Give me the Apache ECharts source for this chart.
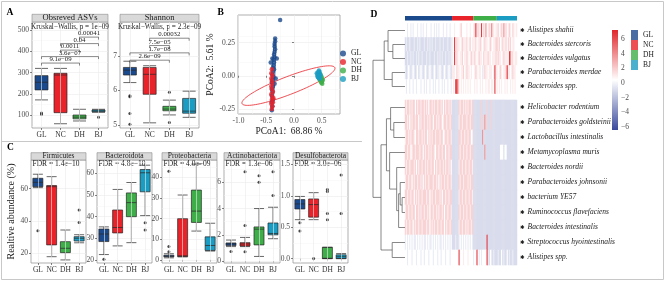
<!DOCTYPE html>
<html>
<head>
<meta charset="utf-8">
<title>Gut microbiota figure</title>
<script src="https://cdn.jsdelivr.net/npm/echarts@6.0.0/dist/echarts.min.js"></script>
<style>
  html, body { margin: 0; padding: 0; background: #ffffff; }
  #figure { width: 666px; height: 282px; }
</style>
</head>
<body>
<div id="figure"></div>
<script>
var groups = ['GL', 'NC', 'DH', 'BJ'];
var groupColors = ['#1b4a8c', '#e8232a', '#3eae49', '#1b9cc2'];

// ---- A: alpha diversity, boxes are [min, Q1, median, Q3, max]
var asvBoxes = [[172, 219, 255, 286, 320], [60, 112, 289, 297, 320], [73, 83, 91, 101, 128], [114, 116, 120, 125, 128]];
var asvOutliers = [[0, 110], [0, 105], [3, 91]];
var asvTests = [[0, 2, '9.1e\u221209'], [0, 3, '3.6e\u221207'], [1, 2, '0.0011'], [1, 3, '0.04'], [2, 3, '0.00041']];
var asvTicks = [100, 200, 300, 400, 500];

var shannonBoxes = [[6.23, 6.45, 6.59, 6.67, 6.85], [5.06, 5.89, 6.47, 6.67, 6.72], [5.29, 5.41, 5.46, 5.54, 5.72], [5.22, 5.34, 5.40, 5.77, 5.98]];
var shannonOutliers = [[0, 5.85], [0, 5.82], [0, 5.33], [0, 5.02], [2, 5.95], [2, 5.07]];
var shannonTests = [[0, 2, '2.6e\u221209'], [0, 3, '1.7e\u221208'], [1, 2, '7.5e\u221205'], [1, 3, '0.00032']];
var shannonTicks = [5, 6, 7];

// ---- C: phylum relative abundance
var firmicutesBoxes = [[60.6, 61.2, 63.9, 66.4, 68.9], [17.9, 25.2, 61.2, 61.9, 67.4], [15.9, 20.4, 23.1, 27.2, 34.4], [26.5, 27.6, 29.3, 30.3, 31.5]];
var firmicutesOutliers = [[0, 34], [3, 39], [3, 46.8]];
var firmicutesTicks = [20, 40, 60];

var bacteroidotaBoxes = [[22.5, 28.5, 32, 34.3, 35.3], [26.5, 32.5, 35, 43.1, 52.6], [28, 40, 46.5, 51, 55.8], [40.5, 51.5, 60.3, 61.8, 63.8]];
var bacteroidotaOutliers = [[0, 20.3], [3, 37.2], [3, 33.8]];
var bacteroidotaTicks = [20, 30, 40, 50, 60];

var proteobacteriaBoxes = [[1.0, 1.5, 1.8, 2.3, 3.0], [1.5, 1.6, 2.0, 20.0, 31.5], [14, 18.2, 23.7, 33.9, 46.5], [4.3, 4.6, 7.0, 11.2, 17.8]];
var proteobacteriaOutliers = [[0, 4.0], [0, 6.5], [0, 43]];
var proteobacteriaTicks = [0, 10, 20, 30, 40];

var actinoBoxes = [[1.1, 1.18, 1.3, 1.38, 1.6], [1.1, 1.15, 1.3, 1.4, 1.8], [0.35, 1.23, 2.43, 2.6, 4.0], [1.7, 2.0, 2.1, 2.9, 4.1]];
var actinoOutliers = [[0, 0.73], [1, 2.7], [1, 0.7], [1, 6.8], [2, 6.5], [2, 6.0], [3, 5.0], [3, 6.8]];
var actinoTicks = [0, 2, 4, 6];

var desulfoBoxes = [[0.62, 0.79, 0.87, 0.94, 0.99], [0.62, 0.66, 0.86, 0.95, 1.05], [0, 0, 0.005, 0.18, 0.18], [0, 0, 0.03, 0.06, 0.08]];
var desulfoOutliers = [[0, 0.57], [0, 0.44], [1, 0.0], [2, 1.1], [2, 1.07], [2, 0.72], [2, 0.62], [3, 1.33], [3, 0.72]];
var desulfoTicks = [0, 0.5, 1, 1.5];

var phyla = ['Firmicutes', 'Bacteroidota', 'Proteobacteria', 'Actinobacteriota', 'Desulfobacterota'];
var phylaFdr = ['FDR = 1.4e\u221210', 'FDR = 4.8e\u221210', 'FDR = 4.0e\u221209', 'FDR = 1.3e\u221206', 'FDR = 3.0e\u221206'];

// ---- B: PCoA
var pcoaGL = [[-0.25, 0.42], [-0.34, 0.28], [-0.34, 0.26], [-0.35, 0.24], [-0.35, 0.22], [-0.34, 0.2], [-0.35, 0.18], [-0.36, 0.16],
  [-0.35, 0.14], [-0.39, 0.13], [-0.31, 0.13], [-0.37, 0.12], [-0.36, 0.1], [-0.37, 0.08], [-0.38, 0.06], [-0.36, 0.05], [-0.38, 0.03],
  [-0.39, 0.01], [-0.37, -0.01], [-0.39, -0.03], [-0.4, -0.05], [-0.35, -0.06], [-0.38, -0.08], [-0.4, -0.1], [-0.39, -0.12],
  [-0.4, -0.15], [-0.38, -0.18], [-0.4, -0.2], [-0.39, -0.23], [-0.4, -0.26], [-0.42, 0.1], [-0.33, -0.02]];
var pcoaNC = [[-0.4, 0.05], [-0.41, 0.02], [-0.39, 0.0], [-0.41, -0.02], [-0.4, -0.04], [-0.39, -0.06], [-0.41, -0.08], [-0.4, -0.1],
  [-0.38, -0.12], [-0.41, -0.14], [-0.39, -0.16], [-0.4, -0.18], [-0.38, -0.2], [-0.41, -0.21], [-0.39, -0.23], [-0.4, -0.25], [-0.37, -0.17]];
var pcoaDH = [[0.47, -0.01], [0.49, -0.03], [0.5, -0.05], [0.51, -0.04], [0.48, -0.02], [0.46, 0.0], [0.5, -0.01], [0.52, -0.03],
  [0.49, -0.05], [0.47, -0.03], [0.45, -0.02], [0.51, -0.06], [0.48, 0.01]];
var pcoaBJ = [[0.43, 0.02], [0.44, 0.03], [0.45, 0.01], [0.42, 0.0], [0.46, 0.02], [0.44, -0.01], [0.47, 0.01], [0.45, -0.02],
  [0.43, -0.01], [0.46, 0.03], [0.48, 0.0], [0.41, 0.02], [0.45, 0.04], [0.47, -0.02], [0.44, 0.0]];
// confidence ellipses: [cx, cy, semi-major, semi-minor, angle (deg), group]
var pcoaEllipses = [[-0.37, 0.01, 0.275, 0.025, 83.7, 0], [-0.1, -0.074, 0.85, 0.071, 8.9, 1], [0.49, -0.03, 0.045, 0.03, 0, 2], [0.45, 0.01, 0.04, 0.03, 0, 3]];
var pcoaXTicks = [-1, -0.5, 0, 0.5];
var pcoaYTicks = [-0.25, 0, 0.25];

// ---- D: heatmap of z-scored species abundance
var taxaTop = ['Alistipes shahii', 'Bacteroides stercoris', 'Bacteroides vulgatus', 'Parabacteroides merdae', 'Bacteroides spp.'];
var taxaBottom = ['Helicobacter rodentium', 'Parabacteroides goldsteinii', 'Lactobacillus intestinalis', 'Metamycoplasma muris',
  'Bacteroides nordii', 'Parabacteroides johnsonii', 'bacterium YE57', 'Ruminococcus flavefaciens', 'Bacteroides intestinalis',
  'Streptococcus hyointestinalis', 'Alistipes spp.'];
var groupSizes = [42, 19, 21, 18];
var heatCodes = { L: -0.9, l: -0.3, w: 0.4, p: 1.0, P: 1.8, r: 3.8, R: 6.5 };
var heatRows = [
  ['wwlwwl wlwwwl wwlwlw wlwwwl wwlwlw lwwwlw wlwwlw', 'wwpwww wpPwww wpwwpww', 'pPRpPpw RpPprwp PprPpwp', 'pPwpPp rpPwpP pwPpwp'],
  ['LlLLlL LLlLLl LlLLLl LLlLlL lLLlLL LlLLlL LLlLLl', 'pwRpPp pwpPpp pPwpPwp', 'ppPwppP pwpPppw pPpwppP', 'PpPwpP ppPwPp Pwppww'],
  ['LLlLLl LlLLlL lLLlLL LlLLlL LLlLLl LlLlLL lLLlLl', 'pwRpPp wppPwp pPpwpPp', 'pPpwpPp pwPpppP ppwpppP', 'pPppwp PpppwR rpPwpp'],
  ['lLlwlL lwlLlw LlwlLl wlLlwl LlwlLl lwlLlw lLlwlL', 'pppwPp pwppPw pPppwpw', 'wpPpwpp wlpPppw pppwpRp', 'pwpPpw ppPRpp wpPppw'],
  ['wlwwlw wlwwlw wwlwwl wlwwlw wlwlww lwwlwl wwlwwl', 'wpwRRr pwpwpw pwpwpww', 'wpwpwwp wpwwpwp pwppwRw', 'pwpwpw wpwpww pwpwpw'],
  ['PpPPpP pPPwPp PPpPPp PpPwPP pPpPPp PPpPwP pPPpPp', 'LLLLLL PpPPpP pPpPPpP', 'LLLLLLL PLLLLPL LLPLLLL', 'LLLLLL LLLLLL LLLLLL'],
  ['PPpPwP pPPpPP wPpPPp PPpPpP PwPPpP pPPwpP PpPPpP', 'LLLLLL pPPpPP PpPPpPP', 'LLLLLLL PLPrLPL LPLLLLL', 'LLLLLL LLLLLL LLLLLL'],
  ['pPPpPp PPpwPP pPPpPp PPwPpP pPPpPP PpPPwp PPpPPp', 'LLLLLL PPpPPp PPpPPwp', 'LLLLLLL LrLLLLL LLLLLLL', 'LLLLLL LLLLLL LLLLLL'],
  ['PPpPPw pPPpPP PpPPwP pPPpPp PPpwPP pPPpPP wPPpPP', 'LLLLLL PpPPpP PpPPpPP', 'LLLLLLL LLLrLLL LLLLLLL', 'LLLwww LwwLLL LLLLLL'],
  ['PpPPpP PPpPwP pPPpPP pPpPPp PPwPpP PpPPpP pPPpPw', 'LLLLLL pPPpPP pPPpPPp', 'LLLLLLL LLLLLLL LLLLLLL', 'LLLLLL LLLLLL LLLLLL'],
  ['pPPpPP wPpPPp PPpPwP pPPpPP PpPPpP wPpPPp PPpPPp', 'LLLLLL PpPPpP PPpPpPP', 'LLLLLLL LLLLLLL LLLLLLL', 'LLLLLL LLLLLL LLLLLL'],
  ['PPpPPp PPwPpP pPPpPP PpPPwP pPPpPP PpPwPP pPPpPP', 'LLLLLL pPPpPP pPPpPPp', 'LLLLLLL LLLLLLL LLLLLLL', 'LLLLLL LLLLLL LLLLLL'],
  ['pPPpPP pPPwPP pPpPPp PPpPwP PpPPpP pPPpPw PPpPPp', 'LLLLLL PpPPpP PpPPpPP', 'LLLLLLL LLLLLLL LLLLLLL', 'LLLLLL LLLLLL LLLLLL'],
  ['PpPPpP PwPpPP pPPpPP PpPPwP pPpPPp PPpPPw PpPPpP', 'LLLLLL pPPpPP pPpPPpP', 'LLLLLLL LLLLLLL LLLLLLL', 'LLLLLL LLLLLL LLLLLL'],
  ['lwlwlw lwllwl wlwlwl lwlwll wlwlwl wllwlw lwlwlw', 'LLLlLL lwlwlw lwlwlwl', 'LLLLLLL LLLLLRL LLLLLLL', 'LLLLLL LLLLLL LLLLLL'],
  ['wwlwww lwwwlw wwlwwl wwwlww wlwwwl wwlwww lwwwlw', 'wwwwww Rwwwpw wwpwwww', 'lwwRwlw lwwwwRl LwlLlLL', 'LlLLwL lLLwLl LLlLLL']
];
// row dendrogram: [node a, node b, height]; leaves 0-15, merged nodes numbered from 16
var dendroMerges = [[1, 2, 3.8], [0, 16, 5.3], [3, 4, 4.0], [17, 18, 6.5], [11, 12, 0.9], [10, 20, 1.5], [21, 13, 2.0],
  [9, 22, 2.6], [14, 15, 4.0], [6, 7, 3.5], [5, 25, 4.5], [8, 23, 4.8], [26, 27, 5.8], [28, 24, 7.5], [19, 29, 10]];
var heatMin = -6.4, heatMax = 7.23;
var heatTicks = [-6, -4, -2, 0, 2, 4, 6];

// ================= layout =================
var chart = echarts.init(document.getElementById('figure'));
var SERIF = 'Liberation Serif';
var gridBoxes = [
  { left: 32, top: 22, width: 76, height: 106 },   // 0 A observed ASVs
  { left: 120, top: 22, width: 79, height: 106 },  // 1 A Shannon
  { left: 238, top: 15, width: 102, height: 99 },  // 2 B PCoA
  { left: 31, top: 160, width: 55, height: 103 },  // 3 C
  { left: 97, top: 160, width: 55, height: 103 },  // 4
  { left: 162, top: 160, width: 55, height: 103 }, // 5
  { left: 224, top: 160, width: 56, height: 103 }, // 6
  { left: 293, top: 160, width: 55, height: 103 }, // 7
  { left: 405, top: 16, width: 112, height: 4.5 }, // 8 D group bar
  { left: 405, top: 23.5, width: 112, height: 70 },// 9 D heatmap top block
  { left: 405, top: 100, width: 112, height: 165 },// 10 D heatmap bottom block
  { left: 373, top: 23.5, width: 32, height: 241.5 }, // 11 dendrogram
  { left: 612, top: 30, width: 6, height: 100 }    // 12 colour key axis
];
var grids = gridBoxes.map(function (g, i) {
  return { left: g.left, top: g.top, width: g.width, height: g.height, show: i <= 7,
    borderColor: '#8c8c8c', borderWidth: 0.7, backgroundColor: '#ffffff' };
});
var xAxes = [], yAxes = [], series = [];
var tickLabel = { fontFamily: SERIF, fontSize: 7.5, color: '#4d4d4d', margin: 3 };

function catAxis(gi) {
  return { type: 'category', gridIndex: gi, data: groups,
    axisLine: { show: false },
    axisTick: { show: true, length: 2, alignWithLabel: true, interval: 0, lineStyle: { color: '#333', width: 0.6 } },
    axisLabel: Object.assign({}, tickLabel, { color: '#333', interval: 0 }),
    splitLine: { show: false } };
}
function valAxis(gi, min, max, ticks, dec, splitNumber, minor) {
  return { type: 'value', gridIndex: gi, min: min, max: max, splitNumber: splitNumber || 5,
    axisLine: { show: false },
    axisTick: { show: true, length: 2, customValues: ticks, lineStyle: { color: '#333', width: 0.6 } },
    axisLabel: Object.assign({}, tickLabel, { customValues: ticks, formatter: function (v) { return v.toFixed(dec); } }),
    splitLine: { show: true, lineStyle: { color: '#ebebeb', width: 0.6 } },
    minorTick: { show: false, splitNumber: 2 },
    minorSplitLine: { show: !!minor, lineStyle: { color: '#f4f4f4', width: 0.5 } } };
}

var boxPanels = [
  { grid: 0, boxes: asvBoxes, outliers: asvOutliers, tests: asvTests, base: 345, step: 30.5, min: 40, max: 538, ticks: asvTicks, dec: 0, minor: true, boxW: 13 },
  { grid: 1, boxes: shannonBoxes, outliers: shannonOutliers, tests: shannonTests, base: 6.88, step: 0.213, min: 4.91, max: 7.99, ticks: shannonTicks, dec: 0, minor: false, boxW: 13 },
  { grid: 3, boxes: firmicutesBoxes, outliers: firmicutesOutliers, min: 14, max: 77.7, ticks: firmicutesTicks, dec: 0, minor: false, boxW: 10 },
  { grid: 4, boxes: bacteroidotaBoxes, outliers: bacteroidotaOutliers, min: 18.6, max: 66.2, ticks: bacteroidotaTicks, dec: 0, minor: true, boxW: 10 },
  { grid: 5, boxes: proteobacteriaBoxes, outliers: proteobacteriaOutliers, min: -1.5, max: 48.5, ticks: proteobacteriaTicks, dec: 0, minor: true, boxW: 10 },
  { grid: 6, boxes: actinoBoxes, outliers: actinoOutliers, min: -0.15, max: 7.7, ticks: actinoTicks, dec: 0, minor: true, boxW: 10 },
  { grid: 7, boxes: desulfoBoxes, outliers: desulfoOutliers, min: -0.07, max: 1.57, ticks: desulfoTicks, dec: 1, minor: true, boxW: 10, splitNumber: 3 }
];

// placeholder axes for every grid, filled in below
for (var gi = 0; gi < gridBoxes.length; gi++) { xAxes.push(null); yAxes.push(null); }

boxPanels.forEach(function (p) {
  xAxes[p.grid] = catAxis(p.grid);
  yAxes[p.grid] = valAxis(p.grid, p.min, p.max, p.ticks, p.dec, p.splitNumber, p.minor);
  series.push({ type: 'line', xAxisIndex: p.grid, yAxisIndex: p.grid, data: [], z: 1, silent: true,
    markLine: { silent: true, symbol: 'none', label: { show: false }, lineStyle: { color: '#ebebeb', width: 0.6, type: 'solid' },
      data: groups.map(function (g) { return { xAxis: g }; }) } });
  series.push({ type: 'boxplot', xAxisIndex: p.grid, yAxisIndex: p.grid, silent: true, z: 3,
    boxWidth: [p.boxW, p.boxW],
    itemStyle: { borderColor: '#262626', borderWidth: 0.7 },
    data: p.boxes.map(function (b, i) { return { value: b, itemStyle: { color: groupColors[i] } }; }) });
  series.push({ type: 'scatter', xAxisIndex: p.grid, yAxisIndex: p.grid, silent: true, z: 4,
    symbolSize: 3, itemStyle: { color: '#1a1a1a' }, data: p.outliers });
  if (p.tests) {
    series.push({ type: 'custom', xAxisIndex: p.grid, yAxisIndex: p.grid, silent: true, z: 5, clip: false,
      encode: { x: 0, y: 2 },
      data: p.tests.map(function (t, i) { return [t[0], t[1], p.base + i * p.step]; }),
      renderItem: function (params, api) {
        var a = api.coord([api.value(0), api.value(2)]);
        var b = api.coord([api.value(1), api.value(2)]);
        var label = p.tests[params.dataIndex][2];
        return { type: 'group', children: [
          { type: 'polyline', shape: { points: [[a[0], a[1] + 2.5], a, b, [b[0], b[1] + 2.5]] },
            style: { stroke: '#3a3a3a', fill: null, lineWidth: 0.6 } },
          { type: 'text', style: { text: label, x: (a[0] + b[0]) / 2, y: a[1] - 0.3,
            align: 'center', verticalAlign: 'bottom', textAlign: 'center', textVerticalAlign: 'bottom',
            fontFamily: SERIF, fontSize: 6.8, fill: '#222' } }
        ] };
      } });
  }
});

// ---- B: PCoA axes and series
xAxes[2] = { type: 'value', gridIndex: 2, min: -1.01, max: 0.83, splitNumber: 4,
  name: 'PCoA1:  68.86 %', nameLocation: 'middle', nameGap: 12,
  nameTextStyle: { fontFamily: SERIF, fontSize: 9.5, color: '#1a1a1a' },
  axisLine: { show: false },
  axisTick: { show: true, length: 2, customValues: pcoaXTicks, lineStyle: { color: '#333', width: 0.6 } },
  axisLabel: Object.assign({}, tickLabel, { customValues: pcoaXTicks, formatter: function (v) { return v.toFixed(1); } }),
  splitLine: { show: true, lineStyle: { color: '#ebebeb', width: 0.6 } },
  minorTick: { show: false, splitNumber: 2 },
  minorSplitLine: { show: true, lineStyle: { color: '#f4f4f4', width: 0.5 } } };
yAxes[2] = { type: 'value', gridIndex: 2, min: -0.288, max: 0.458, splitNumber: 3,
  name: 'PCoA2:  5.61 %', nameLocation: 'middle', nameGap: 16,
  nameTextStyle: { fontFamily: SERIF, fontSize: 9.5, color: '#1a1a1a' },
  axisLine: { show: false },
  axisTick: { show: true, length: 2, customValues: pcoaYTicks, lineStyle: { color: '#333', width: 0.6 } },
  axisLabel: Object.assign({}, tickLabel, { customValues: pcoaYTicks, formatter: function (v) { return v.toFixed(2); } }),
  splitLine: { show: true, lineStyle: { color: '#ebebeb', width: 0.6 } },
  minorTick: { show: false, splitNumber: 2 },
  minorSplitLine: { show: true, lineStyle: { color: '#f4f4f4', width: 0.5 } } };

series.push({ type: 'custom', xAxisIndex: 2, yAxisIndex: 2, silent: true, z: 2,
  data: pcoaEllipses.map(function (e) { return [e[0], e[1]]; }),
  renderItem: function (params, api) {
    var e = pcoaEllipses[params.dataIndex];
    var t = e[4] * Math.PI / 180, pts = [];
    for (var k = 0; k < 90; k++) {
      var s = k / 90 * 2 * Math.PI;
      pts.push(api.coord([
        e[0] + e[2] * Math.cos(s) * Math.cos(t) - e[3] * Math.sin(s) * Math.sin(t),
        e[1] + e[2] * Math.cos(s) * Math.sin(t) + e[3] * Math.sin(s) * Math.cos(t)]));
    }
    return { type: 'polygon', shape: { points: pts }, style: { fill: null, stroke: groupColors[e[5]], lineWidth: 0.8 } };
  } });
[pcoaGL, pcoaNC, pcoaDH, pcoaBJ].forEach(function (pts, i) {
  series.push({ type: 'scatter', name: groups[i], xAxisIndex: 2, yAxisIndex: 2, silent: true, z: 3,
    symbolSize: 4.5, itemStyle: { color: groupColors[i] }, data: pts });
});

// C shared y axis title
yAxes[3].name = 'Realtive abundance (%)';
yAxes[3].nameLocation = 'middle';
yAxes[3].nameGap = 12;
yAxes[3].nameTextStyle = { fontFamily: SERIF, fontSize: 10, color: '#1a1a1a' };

// ---- D: group annotation bar
var nSamples = groupSizes.reduce(function (a, b) { return a + b; }, 0);
xAxes[8] = { type: 'value', gridIndex: 8, min: 0, max: nSamples, show: false };
yAxes[8] = { type: 'category', gridIndex: 8, data: ['group'], show: false };
groups.forEach(function (g, i) {
  series.push({ type: 'bar', name: g, stack: 'group', xAxisIndex: 8, yAxisIndex: 8, silent: true,
    barWidth: '100%', itemStyle: { color: groupColors[i] }, data: [groupSizes[i]] });
});

// ---- D: heatmap blocks
var sampleIds = [];
for (var s = 0; s < nSamples; s++) sampleIds.push('S' + (s + 1));
var heatTopData = [], heatBottomData = [];
heatRows.forEach(function (segs, r) {
  var cells = '';
  segs.forEach(function (seg, g) {
    var clean = seg.replace(/\s/g, '');
    while (clean.length < groupSizes[g]) clean += clean.charAt(clean.length - 1);
    cells += clean.slice(0, groupSizes[g]);
  });
  for (var c = 0; c < nSamples; c++) {
    var v = heatCodes[cells.charAt(c)];
    if (r < taxaTop.length) heatTopData.push([c, r, v]);
    else heatBottomData.push([c, r - taxaTop.length, v]);
  }
});
var taxonLabel = {
  margin: 3,
  interval: 0,
  formatter: function (v) { return '{s|\u2731} {i|' + v + '}'; },
  rich: { s: { fontFamily: 'DejaVu Sans', fontSize: 5.5, color: '#111' },
          i: { fontFamily: SERIF, fontStyle: 'italic', fontSize: 7.5, color: '#1a1a1a' } }
};
[9, 10].forEach(function (gi) {
  xAxes[gi] = { type: 'category', gridIndex: gi, data: sampleIds, show: false };
  yAxes[gi] = { type: 'category', gridIndex: gi, data: gi === 9 ? taxaTop : taxaBottom, inverse: true, position: 'right',
    axisLine: { show: false }, axisTick: { show: false }, splitLine: { show: false }, axisLabel: taxonLabel };
});
var heatSeriesIdx = [series.length, series.length + 1];
series.push({ type: 'heatmap', xAxisIndex: 9, yAxisIndex: 9, data: heatTopData, silent: true, itemStyle: { borderWidth: 0 } });
series.push({ type: 'heatmap', xAxisIndex: 10, yAxisIndex: 10, data: heatBottomData, silent: true, itemStyle: { borderWidth: 0 } });

// ---- D: row dendrogram
var nLeaves = taxaTop.length + taxaBottom.length;
function leafOffset(i) {
  var top = i < taxaTop.length;
  var g = top ? gridBoxes[9] : gridBoxes[10];
  var n = top ? taxaTop.length : taxaBottom.length;
  var j = top ? i : i - taxaTop.length;
  return g.top + (j + 0.5) * g.height / n - gridBoxes[11].top;
}
var nodeH = [], nodeY = [];
for (var lf = 0; lf < nLeaves; lf++) { nodeH.push(0); nodeY.push(leafOffset(lf)); }
dendroMerges.forEach(function (m) { nodeH.push(m[2]); nodeY.push((nodeY[m[0]] + nodeY[m[1]]) / 2); });
xAxes[11] = { type: 'value', gridIndex: 11, min: 0, max: 10, inverse: true, show: false };
yAxes[11] = { type: 'value', gridIndex: 11, min: 0, max: gridBoxes[11].height, inverse: true, show: false };
series.push({ type: 'custom', xAxisIndex: 11, yAxisIndex: 11, silent: true, clip: false,
  data: dendroMerges.map(function (m) { return [m[2], 0]; }),
  renderItem: function (params, api) {
    var m = dendroMerges[params.dataIndex];
    var a = m[0], b = m[1], h = m[2];
    var pts = [[nodeH[a], nodeY[a]], [h, nodeY[a]], [h, nodeY[b]], [nodeH[b], nodeY[b]]].map(function (q) { return api.coord(q); });
    return { type: 'polyline', shape: { points: pts }, style: { stroke: '#555', fill: null, lineWidth: 0.7 } };
  } });

// ---- D: colour key axis
xAxes[12] = { type: 'value', gridIndex: 12, show: false };
yAxes[12] = { type: 'value', gridIndex: 12, min: heatMin, max: heatMax, position: 'right',
  axisLine: { show: false }, axisTick: { show: false }, splitLine: { show: false },
  axisLabel: Object.assign({}, tickLabel, { margin: 3, customValues: heatTicks,
    formatter: function (v) { return (v < 0 ? '\u2212' : '') + Math.abs(v); } }) };
var heatColors = ['#3a4a9c', '#ffffff', '#e0272c'];

// ---- annotations: frame, strips, panel letters, test labels
var elements = [];
elements.push({ type: 'rect', silent: true, shape: { x: 1.5, y: 1.5, width: 662, height: 278 },
  style: { fill: null, stroke: '#c8c8c8', lineWidth: 1 } });
elements.push({ type: 'line', silent: true, shape: { x1: 1.5, y1: 141.5, x2: 362, y2: 141.5 },
  style: { stroke: '#c8c8c8', lineWidth: 1 } });
function strip(gi, label, h, size) {
  var g = gridBoxes[gi];
  elements.push({ type: 'rect', silent: true, shape: { x: g.left, y: g.top - h, width: g.width, height: h },
    style: { fill: '#d9d9d9', stroke: '#8c8c8c', lineWidth: 0.6 } });
  elements.push({ type: 'text', silent: true, x: g.left + g.width / 2, y: g.top - h / 2,
    style: { text: label, fontFamily: SERIF, fontSize: size, fill: '#1a1a1a',
      align: 'center', verticalAlign: 'middle', textAlign: 'center', textVerticalAlign: 'middle' } });
}
function note(x, y, text, size, align, extra) {
  elements.push(Object.assign({ type: 'text', silent: true, x: x, y: y,
    style: { text: text, fontFamily: SERIF, fontSize: size, fill: '#1a1a1a',
      align: align, verticalAlign: 'middle', textAlign: align, textVerticalAlign: 'middle' } }, extra || {}));
}
strip(0, 'Obsreved ASVs', 7.7, 8.5);
strip(1, 'Shannon', 7.7, 8.5);
phyla.forEach(function (name, i) { strip(3 + i, name, 7.3, 7.5); });
note(gridBoxes[0].left + gridBoxes[0].width / 2, 27, 'Kruskal\u2212Wallis, p = 1e\u221209', 7.2, 'center');
note(gridBoxes[1].left + gridBoxes[1].width / 2, 27, 'Kruskal\u2212Wallis, p = 2.3e\u221209', 7.2, 'center');
phylaFdr.forEach(function (t, i) { note(gridBoxes[3 + i].left + 1.5, gridBoxes[3 + i].top + 4.5, t, 7.5, 'left'); });
[['A', 6.5, 12.5], ['B', 217.5, 12.5], ['C', 7, 148], ['D', 370.5, 14.5]].forEach(function (l) {
  elements.push({ type: 'text', silent: true, x: l[1], y: l[2],
    style: { text: l[0], fontFamily: SERIF, fontWeight: 'bold', fontSize: 9.5, fill: '#000',
      align: 'left', verticalAlign: 'middle', textAlign: 'left', textVerticalAlign: 'middle' } });
});
var key = gridBoxes[12];
elements.push({ type: 'rect', silent: true, shape: { x: key.left, y: key.top, width: key.width, height: key.height },
  style: { fill: new echarts.graphic.LinearGradient(0, 0, 0, 1, [
    { offset: 0, color: heatColors[2] }, { offset: 0.5, color: heatColors[1] }, { offset: 1, color: heatColors[0] }]) } });

chart.setOption({
  animation: false,
  backgroundColor: '#ffffff',
  textStyle: { fontFamily: SERIF },
  grid: grids,
  xAxis: xAxes,
  yAxis: yAxes,
  visualMap: { type: 'continuous', show: false, min: heatMin, max: heatMax, seriesIndex: heatSeriesIdx,
    inRange: { color: heatColors } },
  legend: [
    { left: 340, top: 49.5, orient: 'vertical', padding: 0, itemGap: 0.5, itemWidth: 6, itemHeight: 6, selectedMode: false,
      textStyle: { fontFamily: SERIF, fontSize: 7.5, color: '#1a1a1a' },
      data: groups.map(function (g) { return { name: g, icon: 'circle' }; }) },
    { left: 631, top: 30, orient: 'vertical', padding: 0, itemGap: 0, itemWidth: 7, itemHeight: 10, selectedMode: false,
      textStyle: { fontFamily: SERIF, fontSize: 7.5, color: '#1a1a1a' },
      data: groups.map(function (g) { return { name: g, icon: 'rect' }; }) }
  ],
  graphic: { elements: elements },
  series: series
});
</script>
</body>
</html>
